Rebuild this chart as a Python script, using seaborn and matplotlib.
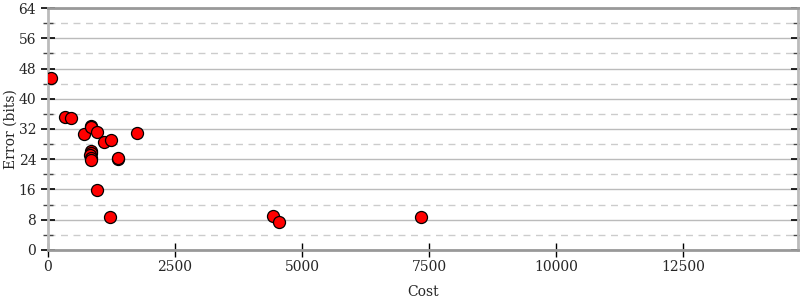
import matplotlib
matplotlib.use("Agg")
import matplotlib.pyplot as plt
import seaborn as sns
import pandas as pd
from matplotlib.ticker import MultipleLocator

cost = [59, 335, 453, 709, 846, 846, 965, 1102, 1240, 1752,
        846, 840, 835, 840, 846, 1378, 1370, 965, 1220, 4429, 4547, 7343]
error = [45.5, 35.2, 34.8, 30.7, 32.9, 32.4, 31.2, 28.6, 29.1, 30.9,
         26.2, 25.6, 25.0, 24.4, 23.9, 24.1, 24.4, 15.9, 8.7, 9.0, 7.4, 8.7]

df = pd.DataFrame({"Cost": cost, "Error (bits)": error})

sns.set_style("white")
plt.rcParams["font.family"] = ["DejaVu Serif"]

fig = plt.figure(figsize=(8, 3), dpi=100)
ax = fig.add_axes([0.06, 0.1667, 0.9375, 0.8066])

sns.scatterplot(data=df, x="Cost", y="Error (bits)", ax=ax, color="#ff0000",
                edgecolor="black", linewidth=0.9, s=75, zorder=3)

ax.set_xlim(0, 14760)
ax.set_ylim(0, 64)
ax.xaxis.set_major_locator(MultipleLocator(2500))
ax.yaxis.set_major_locator(MultipleLocator(8))
ax.yaxis.set_minor_locator(MultipleLocator(4))

ax.grid(axis="y", which="major", color="#bbbbbb", linewidth=1, linestyle="-", zorder=0)
ax.grid(axis="y", which="minor", color="#cccccc", linewidth=1, linestyle=(0, (5, 4)), zorder=0)
ax.set_axisbelow(True)

for side in ["left", "right"]:
    ax.spines[side].set_color("#bbbbbb")
    ax.spines[side].set_linewidth(2)
ax.spines["bottom"].set_color("#999999")
ax.spines["bottom"].set_linewidth(2)
ax.spines["top"].set_color("#999999")
ax.spines["top"].set_linewidth(2)

ax.tick_params(axis="y", which="major", direction="inout", length=10, width=1.2,
               color="black", left=True, right=True, labelsize=10)
ax.tick_params(axis="y", which="minor", direction="inout", length=7, width=1,
               color="#444444", left=True, right=True)
ax.tick_params(axis="x", which="major", direction="inout", length=10, width=1,
               color="black", bottom=True, labelsize=10, pad=2)

ax.set_xlabel("Cost", fontsize=10, labelpad=8)
ax.set_ylabel("Error (bits)", fontsize=10, labelpad=1)

fig.savefig("out.png", dpi=100)
